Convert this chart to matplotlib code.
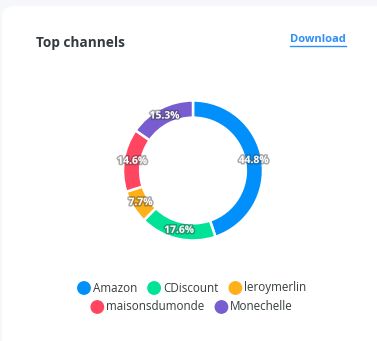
import matplotlib
matplotlib.use("Agg")
import matplotlib.pyplot as plt
from matplotlib.patches import FancyBboxPatch, Circle
import matplotlib.patheffects as pe
import numpy as np

channels = ["Amazon", "CDiscount", "leroymerlin", "maisonsdumonde", "Monechelle"]
shares = [44.8, 17.6, 7.7, 14.6, 15.3]
colors = ["#008FFB", "#00E396", "#FEB019", "#FF4560", "#775DD0"]

W, H = 377, 341
fig = plt.figure(figsize=(W / 100, H / 100), dpi=100)
fig.patch.set_facecolor("#f5f7fb")
ax = fig.add_axes([0, 0, 1, 1])

FONT = "Open Sans"

def py(y):
    return H - y

# card
card = FancyBboxPatch((2, py(400)), 400, 394, boxstyle="round,pad=0,rounding_size=12",
                      facecolor="white", edgecolor="none", zorder=0)
ax.add_patch(card)

# donut
cx, cy, r = 193, py(170.5), 70
ring = 0.245
wedges, _ = ax.pie(shares, colors=colors, startangle=90, counterclock=False,
                   center=(cx, cy), radius=r,
                   wedgeprops=dict(width=r * ring, edgecolor="white", linewidth=1.8))
for w in wedges:
    w.set_zorder(2)

angle = 90.0
for s in shares:
    mid = np.deg2rad(angle - s * 3.6 / 2)
    angle -= s * 3.6
    rr = r * (1 - ring / 2)
    ax.text(cx + rr * np.cos(mid), cy + rr * np.sin(mid), f"{s}%",
            ha="center", va="center", fontsize=7.4, fontweight="bold", color="white",
            family=FONT, zorder=3,
            path_effects=[pe.withStroke(linewidth=2.2, foreground="#444444", alpha=0.45)])

ax.set_xlim(0, W)
ax.set_ylim(0, H)
ax.set_aspect("auto")
ax.axis("off")

# header
ax.text(36, py(43), "Top channels", fontsize=9.8, fontweight="bold", color="#333a40",
        family=FONT, ha="left", va="center")
ax.text(346, py(39), "Download", fontsize=8, fontweight="bold", color="#2f8ff7",
        family=FONT, ha="right", va="center")
ax.plot([290, 346], [py(45.5), py(45.5)], color="#2f8ff7", lw=1)

# legend
rows = [(0, 1, 2), (3, 4)]
row_y = [288, 307]
ms = 6.2
pad = 2.5
gap = 11
fig.canvas.draw()
renderer = fig.canvas.get_renderer()
for ri, idxs in enumerate(rows):
    items = []
    total = 0
    for i in idxs:
        t = ax.text(0, 0, channels[i], fontsize=8.4, family=FONT)
        bb = t.get_window_extent(renderer)
        t.remove()
        wdt = 2 * ms + pad + bb.width
        items.append((i, wdt))
        total += wdt
    total += gap * (len(items) - 1)
    x = 192 - total / 2
    for i, wdt in items:
        ax.add_patch(Circle((x + ms, py(row_y[ri])), ms, color=colors[i], zorder=3))
        ax.text(x + 2 * ms + pad, py(row_y[ri]), channels[i], fontsize=8.4, family=FONT,
                color="#373d3f", ha="left", va="center")
        x += wdt + gap

fig.savefig("out.png", dpi=100, facecolor=fig.get_facecolor())
